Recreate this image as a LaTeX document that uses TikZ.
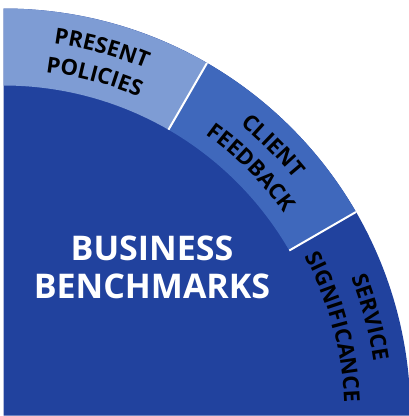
\documentclass[tikz,border=0pt]{standalone}
\usepackage{fontspec}
\setmainfont{Open Sans}
\usepackage{xcolor}
\usepackage{tikz}
\usetikzlibrary{decorations.text}

\definecolor{polblue}{RGB}{126,156,212}
\definecolor{feedblue}{RGB}{63,104,188}
\definecolor{coreblue}{RGB}{33,66,158}

\newcommand{\ringfont}{\bfseries\fontsize{22}{26}\selectfont}

\begin{document}
\begin{tikzpicture}[
    x=1pt, y=1pt,
    sep/.style={draw=white, line width=2pt},
    ringlabel/.style={decorate, decoration={text along path, text align=center, text={#1}}}
]
\useasboundingbox (-3.5,-0.5) rectangle (405.5,415.5);
% whole quarter disc, service segment included
\fill[coreblue] (0,0) -- (0:407pt) arc[start angle=0, end angle=90, radius=407pt] -- cycle;
% lighter ring segments
\fill[polblue] (90:330pt) -- (90:407pt) arc[start angle=90, end angle=60, radius=407pt]
    -- (60:330pt) arc[start angle=60, end angle=90, radius=330pt] -- cycle;
\fill[feedblue] (60:330pt) -- (60:407pt) arc[start angle=60, end angle=30, radius=407pt]
    -- (30:330pt) arc[start angle=30, end angle=60, radius=330pt] -- cycle;
\draw[sep] (60:330pt) -- (60:407pt);
\draw[sep] (30:330pt) -- (30:407pt);

\path[ringlabel={|\ringfont|PRESENT}] (90:375pt) arc[start angle=90, end angle=60, radius=375pt];
\path[ringlabel={|\ringfont|POLICIES}] (90:346pt) arc[start angle=90, end angle=60, radius=346pt];
\path[ringlabel={|\ringfont|CLIENT}] (60:375pt) arc[start angle=60, end angle=30, radius=375pt];
\path[ringlabel={|\ringfont|FEEDBACK}] (60:346pt) arc[start angle=60, end angle=30, radius=346pt];
\path[ringlabel={|\ringfont|SERVICE}] (30:374pt) arc[start angle=30, end angle=0, radius=374pt];
\path[ringlabel={|\ringfont|SIGNIFICANCE}] (30:341pt) arc[start angle=30, end angle=0, radius=341pt];

\node[text=white, align=center, font=\bfseries\fontsize{34}{38}\selectfont] (bench) at (148.5,148) {BUSINESS\\BENCHMARKS};
\end{tikzpicture}
\end{document}
